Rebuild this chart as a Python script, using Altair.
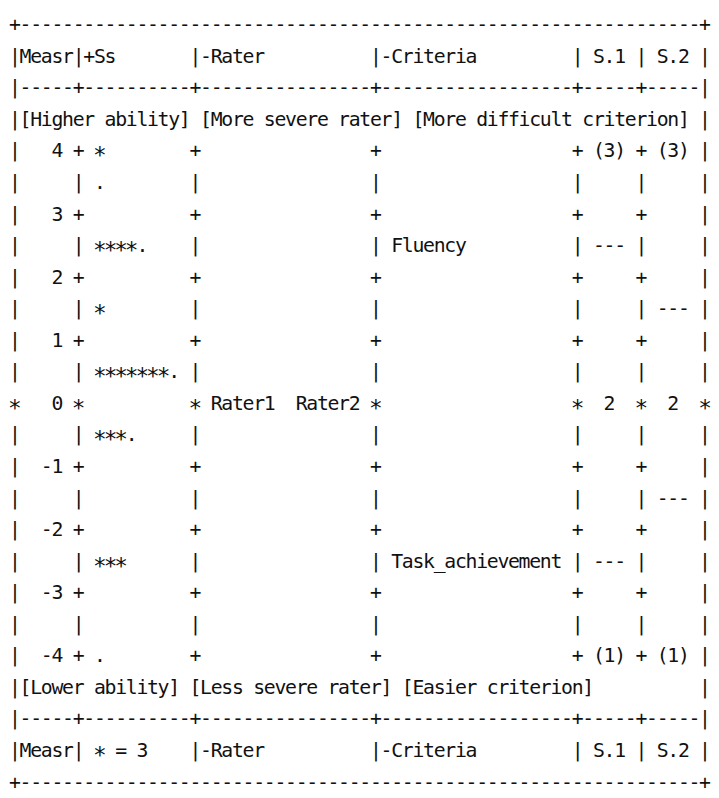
import altair as alt
import pandas as pd

# FACETS vertical ruler (Wright map), one string per printed line
border = "+" + "-" * 64 + "+"
header_lines = [
    "|Measr|+Ss       |-Rater          |-Criteria         | S.1 | S.2 |",
    "|-----+----------+----------------+------------------+-----+-----|",
    "|[Higher ability] [More severe rater] [More difficult criterion] |",
]
ruler_lines = [
    "|   4 + *        +                +                  + (3) + (3) |",
    "|     | .        |                |                  |     |     |",
    "|   3 +          +                +                  +     +     |",
    "|     | ****.    |                | Fluency          | --- |     |",
    "|   2 +          +                +                  +     +     |",
    "|     | *        |                |                  |     | --- |",
    "|   1 +          +                +                  +     +     |",
    "|     | *******. |                |                  |     |     |",
    "*   0 *          * Rater1  Rater2 *                  *  2  *  2  *",
    "|     | ***.     |                |                  |     |     |",
    "|  -1 +          +                +                  +     +     |",
    "|     |          |                |                  |     | --- |",
    "|  -2 +          +                +                  +     +     |",
    "|     | ***      |                | Task_achievement | --- |     |",
    "|  -3 +          +                +                  +     +     |",
    "|     |          |                |                  |     |     |",
    "|  -4 + .        +                +                  + (1) + (1) |",
]
footer_lines = [
    "|[Lower ability] [Less severe rater] [Easier criterion]          |",
    "|-----+----------+----------------+------------------+-----+-----|",
    "|Measr| * = 3    |-Rater          |-Criteria         | S.1 | S.2 |",
]

lines = [border] + header_lines + ruler_lines + footer_lines + [border]
bad = [(i, len(s)) for i, s in enumerate(lines) if len(s) != 66]
if bad:
    raise SystemExit(f"bad line lengths: {bad}")

records = []
for r, line in enumerate(lines):
    for c, ch in enumerate(line):
        if ch != " ":
            records.append({"row": r, "col": c, "ch": ch})
df = pd.DataFrame(records)

W, H = 711, 790
fs = 20
c_first, c_last = 7.0, 705.0
r_first, r_last = 13.0, 779.0
cw = (c_last - c_first) / 65
rh = (r_last - r_first) / 24
xdom = [-c_first / cw, (W - c_first) / cw]
ydom = [-r_first / rh, (H - r_first) / rh]

FONT = "DejaVu Sans Mono"

base = alt.Chart(df).encode(
    x=alt.X("col:Q", scale=alt.Scale(domain=xdom, nice=False, zero=False), axis=None),
    y=alt.Y("row:Q", scale=alt.Scale(domain=ydom, nice=False, zero=False, reverse=True), axis=None),
    text="ch:N",
)

plain = base.transform_filter(alt.datum.ch != "*").mark_text(
    font=FONT, fontSize=fs, align="center", baseline="middle", color="#111111", angle=0.01
)
stars = base.transform_filter(alt.datum.ch == "*").mark_text(
    font=FONT, fontSize=23, align="center", baseline="middle", color="#111111", angle=0.01, dy=5
)

chart = (
    alt.layer(plain, stars)
    .properties(width=W, height=H, padding=0, autosize=alt.AutoSizeParams(type="none"))
    .configure_view(stroke=None)
)

chart.save("out.html", embed_options={"renderer": "svg", "actions": False})
